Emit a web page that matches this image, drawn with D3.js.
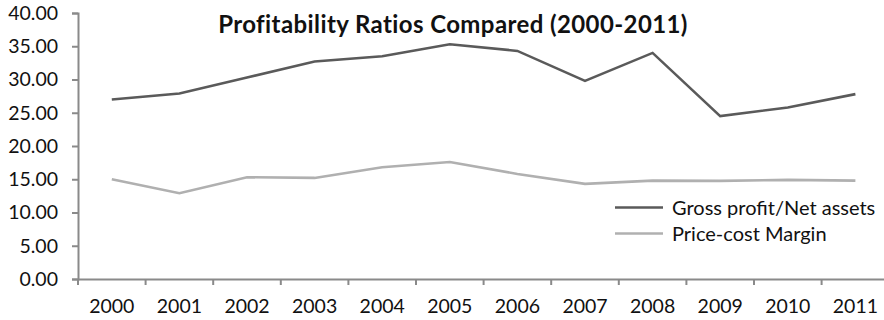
<!DOCTYPE html>
<html>
<head>
<meta charset="utf-8">
<script src="https://cdn.jsdelivr.net/npm/d3@7"></script>
<style>
  body { margin: 0; background: #fff; }
  #chart { width: 884px; height: 320px; }
  text { font-family: Lato, "Open Sans", sans-serif; fill: #111; }
  .axis path, .axis line { stroke: #8a8a8a; stroke-width: 2; }
</style>
</head>
<body>
<div id="chart"></div>
<script>
// chart data
const years = ["2000","2001","2002","2003","2004","2005","2006","2007","2008","2009","2010","2011"];
const grossProfit = [27.0, 27.9, 30.3, 32.7, 33.5, 35.3, 34.3, 29.8, 34.0, 24.5, 25.8, 27.8];
const priceCost = [15.0, 12.9, 15.3, 15.2, 16.8, 17.6, 15.8, 14.3, 14.8, 14.75, 14.9, 14.8];
const yTicks = [0, 5, 10, 15, 20, 25, 30, 35, 40];
const seriesNames = ["Gross profit/Net assets", "Price-cost Margin"];

const width = 884;
const height = 320;

const svg = d3.select("#chart")
  .append("svg")
  .attr("width", width)
  .attr("height", height);

const margin = { top: 13, left: 78, bottom: 41 };
const step = 67.6;

const xScale = d3.scaleBand()
  .domain(years)
  .range([margin.left, margin.left + step * years.length]);

const yScale = d3.scaleLinear()
  .domain([0, 40])
  .range([height - margin.bottom, margin.top]);

const colors = ["#5a5a5a", "#b0b0b0"];

// y axis
svg.append("g")
  .attr("class", "axis")
  .attr("transform", `translate(${margin.left},0)`)
  .call(d3.axisLeft(yScale).tickValues(yTicks).tickFormat(d3.format(".2f")).tickSize(6).tickPadding(14))
  .call(g => g.selectAll("text").style("font-size", "19.5px").attr("fill", "#111"));

// x axis (labels centred, ticks on band edges)
const xAxis = svg.append("g")
  .attr("class", "axis")
  .attr("transform", `translate(0,${height - margin.bottom})`)
  .call(d3.axisBottom(xScale).tickSizeOuter(0).tickSize(0).tickPadding(20))
  .call(g => g.selectAll("text").style("font-size", "19.5px").attr("fill", "#111"));

const edges = years.map(d => xScale(d)).concat([xScale.range()[1]]);
xAxis.selectAll(".edge")
  .data(edges)
  .enter()
  .append("line")
    .attr("class", "edge")
    .attr("x1", d => d)
    .attr("x2", d => d)
    .attr("y1", 0)
    .attr("y2", 6);

// lines
const line = d3.line()
  .x((d, i) => xScale(years[i]) + xScale.bandwidth() / 2)
  .y(d => yScale(d));

[grossProfit, priceCost].forEach((s, i) => {
  svg.append("path")
    .datum(s)
    .attr("fill", "none")
    .attr("stroke", colors[i])
    .attr("stroke-width", 2.6)
    .attr("d", line);
});

// title
svg.append("text")
  .attr("x", 453)
  .attr("y", 33)
  .attr("text-anchor", "middle")
  .style("font-size", "24px")
  .style("font-weight", "bold")
  .style("letter-spacing", "0.4px")
  .text("Profitability Ratios Compared (2000-2011)");

// legend
const legend = svg.append("g")
  .attr("transform", "translate(615,207.5)");

legend.selectAll("line")
  .data(seriesNames)
  .enter()
  .append("line")
    .attr("x1", 0)
    .attr("x2", 48)
    .attr("y1", (d, i) => i * 26)
    .attr("y2", (d, i) => i * 26)
    .attr("stroke", (d, i) => colors[i])
    .attr("stroke-width", 2.6);

legend.selectAll("text")
  .data(seriesNames)
  .enter()
  .append("text")
    .attr("x", 57)
    .attr("y", (d, i) => i * 26)
    .attr("dy", "0.36em")
    .style("font-size", "20px")
    .text(d => d);
</script>
</body>
</html>
